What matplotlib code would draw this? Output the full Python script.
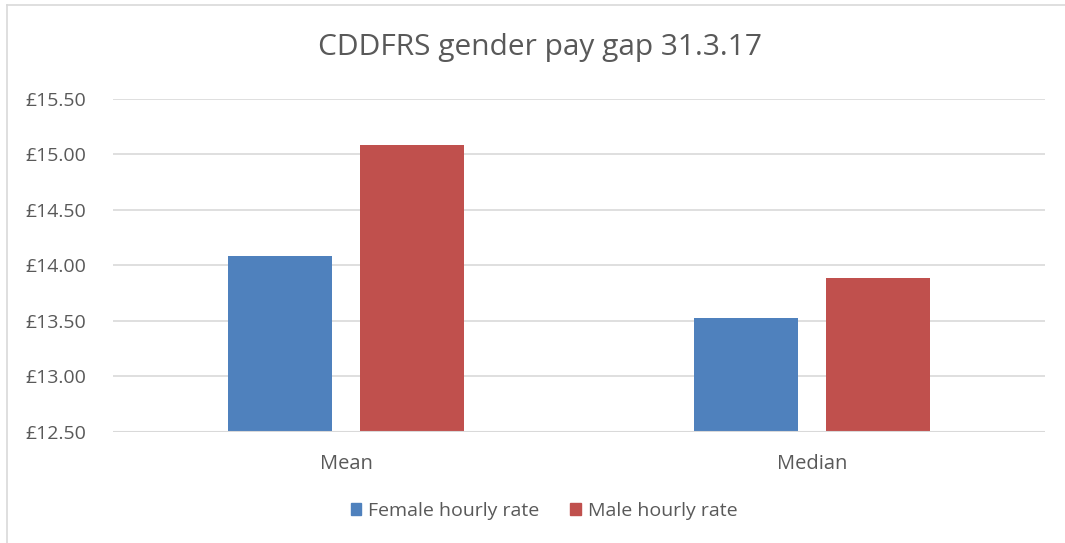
import matplotlib
matplotlib.use("Agg")
import matplotlib.pyplot as plt
import numpy as np
from matplotlib.patches import Rectangle
from matplotlib.lines import Line2D

categories = ["Mean", "Median"]
female = [14.09, 13.53]
male = [15.09, 13.89]
series_names = ["Female hourly rate", "Male hourly rate"]
yticks = [12.5, 13.0, 13.5, 14.0, 14.5, 15.0, 15.5]

FONT = ["Open Sans", "DejaVu Sans"]
TXT = "#595959"
BLUE = "#4F81BD"
RED = "#C0504D"
GRID = "#D9D9D9"

fig = plt.figure(figsize=(10.65, 5.43), dpi=100)
W, H = 1065, 543
ax = fig.add_axes([113 / W, 1 - 432 / H, (1045 - 113) / W, (432 - 99) / H])

x = np.arange(len(categories))
bw = 0.223
off = 0.1425
ax.bar(x - off, [v - 12.5 for v in female], bw, bottom=12.5, color=BLUE, zorder=3, label=series_names[0])
ax.bar(x + off, [v - 12.5 for v in male], bw, bottom=12.5, color=RED, zorder=3, label=series_names[1])

ax.set_xlim(-0.5, len(categories) - 0.5)
ax.set_ylim(12.5, 15.5)
ax.set_yticks(yticks)
ax.set_yticklabels([f"£{v:.2f}" for v in yticks], fontsize=14, color=TXT, family=FONT)
ax.set_xticks(x)
ax.set_xticklabels(categories, fontsize=14.5, color=TXT, family=FONT)
ax.tick_params(axis="both", length=0)
ax.tick_params(axis="y", pad=19)
ax.tick_params(axis="x", pad=16)
ax.grid(axis="y", color=GRID, linewidth=1.2, zorder=0)
for s in ax.spines.values():
    s.set_visible(False)
ax.axhline(12.5, color=GRID, linewidth=1.5, zorder=4)

fig.text(540 / W, 1 - 48 / H, "CDDFRS gender pay gap 31.3.17", ha="center", va="center",
         fontsize=21.5, color=TXT, family=FONT)

leg = fig.legend(handles=[Rectangle((0, 0), 1, 1, color=BLUE), Rectangle((0, 0), 1, 1, color=RED)],
                 labels=series_names, loc="center", bbox_to_anchor=(544 / W, 1 - 511 / H),
                 ncol=2, frameon=False, prop={"family": FONT, "size": 14},
                 handlelength=0.55, handleheight=0.6, handletextpad=0.35, columnspacing=1.6)
for t in leg.get_texts():
    t.set_color(TXT)

# chart border (partially visible)
fig.add_artist(Line2D([7 / W, 7 / W], [0, 1 - 5 / H], color=GRID, linewidth=1.2))
fig.add_artist(Line2D([7 / W, 1], [1 - 5 / H, 1 - 5 / H], color=GRID, linewidth=1.2))

fig.savefig("out.png", dpi=100)
